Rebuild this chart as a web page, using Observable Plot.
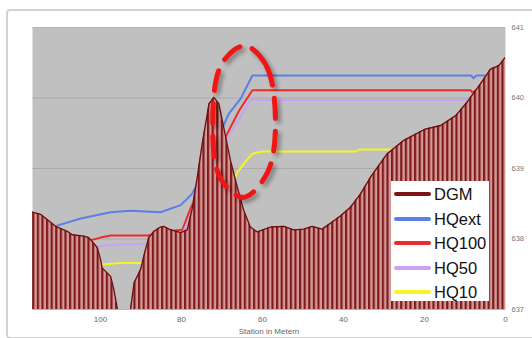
<!DOCTYPE html>
<html><head><meta charset="utf-8">
<script src="https://cdn.jsdelivr.net/npm/d3@7"></script>
<script src="https://cdn.jsdelivr.net/npm/@observablehq/plot@0.6"></script>
<style>
html,body{margin:0;padding:0;background:#fff;}
#wrap{position:relative;width:532px;height:338px;overflow:hidden;font-family:"Liberation Sans",Arial,sans-serif;}
#border{position:absolute;left:6px;top:9px;width:560px;height:326px;border:2px solid #d2d2d2;border-radius:4px;}
#chart{position:absolute;left:0;top:0;}
#legend{position:absolute;left:391px;top:181px;width:98px;height:120px;background:#fff;}
.item{position:absolute;left:0;height:24px;display:flex;align-items:center;}
.sw{width:37px;height:4px;margin-left:3px;margin-right:3px;border-radius:2px;}
.lab{font-size:16.5px;color:#111;line-height:24px;}
</style></head>
<body>
<div id="wrap"><div id="border"></div><div id="chart"></div><div id="legend"></div></div>
<script>
// Terrain profile (DGM): station in m, elevation
const dgmStation = [0,1.65,3.7,6.2,9.5,12.3,16,19.8,25.1,29.2,33.3,35.8,38.3,40.7,42.8,45.3,47.7,49.8,52.3,54.7,58,61.3,63,64.6,66.2,67.9,69.6,70.8,72,73.2,74.9,76.1,77.4,78.6,80.2,81.9,83.1,84.4,85.2,86.8,88.1,88.9,90.1,91.7,92.6,93.5,95,95.8,96.7,97.5,99.6,100,100.8,102.9,104.1,107,108.2,111.1,114.8,116.8];
const dgmElev = [640.58,640.46,640.41,640.20,639.94,639.75,639.61,639.56,639.40,639.21,638.88,638.64,638.45,638.33,638.24,638.14,638.18,638.14,638.13,638.18,638.17,638.10,638.17,638.40,638.73,639.11,639.59,639.92,640.01,639.92,639.35,638.88,638.42,638.13,638.09,638.12,638.14,638.18,638.17,638.11,638.02,637.85,637.57,637.38,637.0,636.6,636.6,637.0,637.28,637.47,637.59,637.71,637.88,638.02,638.04,638.06,638.11,638.18,638.35,638.38];

// Water levels
const hqextStation = [110.7,104.9,97.5,92.6,85.2,80.2,77.4,75.7,68.3,65.4,62.5,8.5,7.9,7.2,4.8];
const hqextElev    = [638.19,638.29,638.38,638.40,638.38,638.48,638.64,638.83,639.78,639.99,640.32,640.32,640.28,640.32,640.32];
const hq100Station = [102.5,100,97.5,88.5,81.5,79.8,77.8,77.4,68.3,65.8,62.5,8.6,8.2,7.6,6.8];
const hq100Elev    = [637.98,638.02,638.05,638.05,638.12,638.13,638.43,638.48,639.54,639.82,640.11,640.11,640.08,640.10,640.10];
const hq50Station  = [101.0,97.5,89.3,86,81,79.6,77.4,68.7,67.5,63,9.4];
const hq50Elev     = [637.89,637.92,637.93,637.95,638.05,638.10,638.36,639.42,639.54,639.97,639.97];
const hq10Station  = [99.6,95.1,89.3,80,68,66.2,64.6,62.5,60.1,37,36,26.6];
const hq10Elev     = [637.64,637.66,637.66,637.66,638.70,638.95,639.07,639.21,639.24,639.24,639.27,639.27];

// Annotation: dashed ellipse around the peak (station, elevation)
const markStation = [64.4,59.0,56.8,58.8,64.7,70.4,72.3,70.1];
const markElev    = [640.74,640.45,639.61,638.94,638.59,638.86,639.65,640.48];

const seriesNames  = ["DGM","HQext","HQ100","HQ50","HQ10"];
const seriesColors = ["#7d1515","#5b7fe6","#ee2b2b","#c9a2f5","#f5f526"];
const xTicks = [100,80,60,40,20,0];
const yTicks = [637,638,639,640,641];
const xLabel = "Station in Metern";

const dgm = dgmStation.map((s,i)=>({s, v:dgmElev[i]}));
const water = [
  ["HQext", hqextStation, hqextElev],
  ["HQ100", hq100Station, hq100Elev],
  ["HQ50", hq50Station, hq50Elev],
  ["HQ10", hq10Station, hq10Elev]
].flatMap(([name, st, el]) => st.map((s,i)=>({name, s, v:el[i]})));
const mark = markStation.map((s,i)=>({s, v:markElev[i]}));

const svg = Plot.plot({
  width:532, height:338,
  marginLeft:32, marginRight:27, marginTop:27, marginBottom:29,
  style:{background:"transparent", fontFamily:"'Liberation Sans',Arial,sans-serif", overflow:"visible"},
  x:{domain:[116.8,0]},
  y:{domain:[637,641]},
  color:{domain:seriesNames, range:seriesColors},
  marks:[
    Plot.frame({fill:"#c0c0c0", stroke:null}),
    Plot.gridY(yTicks, {stroke:"#9c9c9c", strokeOpacity:0.6}),
    Plot.line(water, {x:"s", y:"v", z:"name", stroke:"name", strokeWidth:2}),
    Plot.areaY(dgm, {x:"s", y1:637, y2:"v", fill:"url(#dgmStripes)", clip:true}),
    Plot.line(dgm, {x:"s", y:"v", stroke:"#6a0f0f", strokeWidth:1.3, clip:true}),
    Plot.line(mark, {x:"s", y:"v", curve:"catmull-rom-closed", stroke:"#f01414", strokeWidth:5, strokeDasharray:"20,13"}),
    Plot.axisX({ticks:xTicks, tickSize:0, tickPadding:7, fontSize:8, fill:"#666", label:xLabel, labelAnchor:"center", labelArrow:"none", labelOffset:24}),
    Plot.axisY({anchor:"right", ticks:yTicks, tickFormat:"d", tickSize:0, tickPadding:6, fontSize:7.5, fill:"#777", label:null})
  ]
});

const defs = d3.select(svg).insert("defs", ":first-child");
defs.html(`<pattern id="dgmStripes" patternUnits="userSpaceOnUse" width="4.6" height="8">
<rect width="4.6" height="8" fill="#d49a9a"/><rect width="2.2" height="8" fill="#801a1a"/></pattern>
<filter id="shadow" x="-30%" y="-30%" width="160%" height="160%"><feDropShadow dx="3" dy="3" stdDeviation="2" flood-color="#000" flood-opacity="0.35"/></filter>`);
svg.querySelectorAll("g[stroke-dasharray]").forEach(g => g.setAttribute("filter","url(#shadow)"));

document.getElementById("chart").appendChild(svg);

const legend = document.getElementById("legend");
seriesNames.forEach((n,i)=>{
  const it = document.createElement("div");
  it.className = "item";
  it.style.top = (1 + i*24.5) + "px";
  it.innerHTML = `<div class="sw" style="background:${seriesColors[i]}"></div><span class="lab">${n}</span>`;
  legend.appendChild(it);
});
</script>
</body></html>
